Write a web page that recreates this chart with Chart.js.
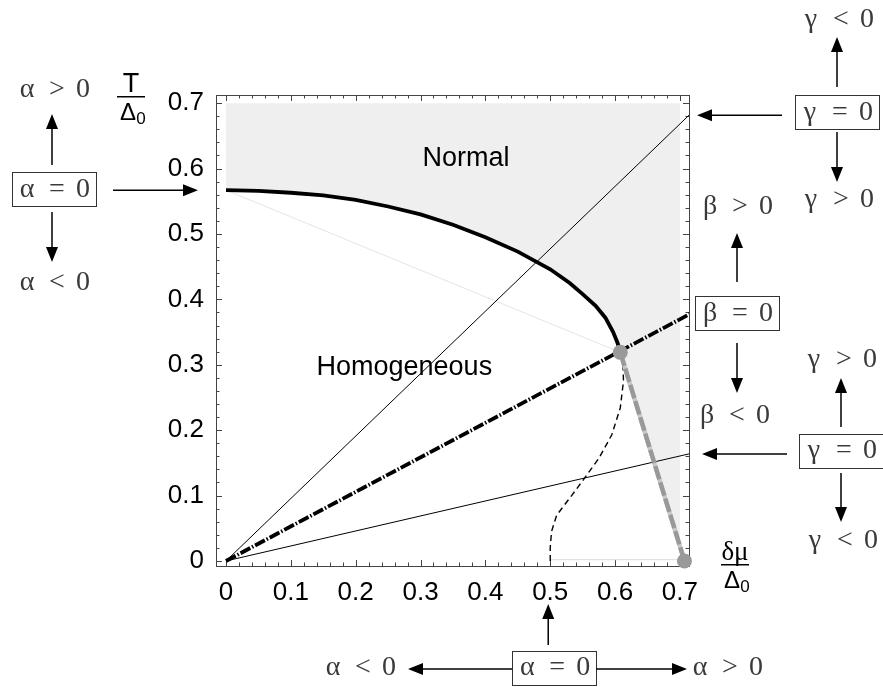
<!DOCTYPE html>
<html lang="en">
<head>
<meta charset="UTF-8">
<title>Phase diagram</title>
<script src="https://cdn.jsdelivr.net/npm/chart.js"></script>
<style>
  body { margin: 0; background: #fff; }
  #wrap { width: 883px; height: 687px; position: relative; }
</style>
</head>
<body>
<div id="wrap"><canvas id="phase"></canvas></div>
<script>
// axis ticks (both axes in units of Delta_0)
const xTicks = [0, 0.1, 0.2, 0.3, 0.4, 0.5, 0.6, 0.7];
const xTickLabels = ['0', '0.1', '0.2', '0.3', '0.4', '0.5', '0.6', '0.7'];
const yTicks = [0, 0.1, 0.2, 0.3, 0.4, 0.5, 0.6, 0.7];
const yTickLabels = ['0', '0.1', '0.2', '0.3', '0.4', '0.5', '0.6', '0.7'];

// second order line, normal -> homogeneous
const criticalLine = [
  [0, 0.567], [0.05, 0.566], [0.1, 0.563], [0.15, 0.559], [0.2, 0.552],
  [0.25, 0.542], [0.3, 0.530], [0.35, 0.514], [0.4, 0.495], [0.45, 0.473],
  [0.5, 0.446], [0.53, 0.425], [0.55, 0.408], [0.57, 0.390], [0.585, 0.372],
  [0.597, 0.350], [0.604, 0.333], [0.608, 0.319]
];
// first order line from the tricritical point down to the T = 0 limit
const firstOrderLine = [[0.608, 0.319], [0.707, 0]];
// spinodal of the homogeneous phase
const spinodalLine = [
  [0.5, 0], [0.5, 0.02], [0.502, 0.045], [0.51, 0.07], [0.533, 0.10],
  [0.551, 0.124], [0.575, 0.157], [0.595, 0.193], [0.608, 0.234],
  [0.613, 0.275], [0.612, 0.305], [0.608, 0.319]
];
const specialPoints = [[0.608, 0.319], [0.707, 0]];
// straight lines through the origin (gamma = 0, beta = 0)
const gammaUpperLine = [[0, 0], [0.75, 0.716]];
const betaLine = [[0, 0], [0.75, 0.396]];
const gammaLowerLine = [[0, 0], [0.75, 0.172]];
// faint guides
const guideLine = [[0, 0.567], [0.608, 0.319]];
const baseLine = [[0.5, 0.002], [0.707, 0.002]];
// lower edge of the normal region inside 0 <= x <= 0.7
const normalEdge = criticalLine.concat([[0.7, 0.0226]]);

const pts = a => a.map(p => ({ x: p[0], y: p[1] }));

function line(data, color, width, dash, extra) {
  return Object.assign({
    data: pts(data), showLine: true, borderColor: color, borderWidth: width,
    borderDash: dash || [], pointRadius: 0, fill: false, tension: 0, clip: 0
  }, extra || {});
}

const datasets = [
  { data: pts(specialPoints), showLine: false, pointRadius: 7.5, pointBackgroundColor: '#999',
    pointBorderWidth: 0, clip: false, order: 0 },
  line(firstOrderLine, '#999', 4.5, [14, 3], { order: 1 }),
  line(firstOrderLine, '#c8c8c8', 4.5, [], { order: 2 }),
  line(criticalLine, '#000', 3.8, [], { order: 3 }),
  line(betaLine, '#000', 3.8, [11, 2, 1.5, 2], { order: 4 }),
  line(spinodalLine, '#000', 1.4, [6, 4], { order: 5 }),
  line(gammaUpperLine, '#000', 1, [], { order: 6 }),
  line(gammaLowerLine, '#000', 1, [], { order: 7 }),
  line(guideLine, '#e4e4e4', 1, [], { order: 8 }),
  line(baseLine, '#e2e2e2', 1.2, [], { order: 9 }),
  line(normalEdge, 'rgba(0,0,0,0)', 0, [], { order: 10, fill: { value: 0.7 }, backgroundColor: '#efefef' })
];

// frame with inward ticks on all four sides
const framePlugin = {
  id: 'frame',
  beforeDatasetsDraw(chart) {
    const { ctx, chartArea: a, scales: { x, y } } = chart;
    ctx.save();
    ctx.strokeStyle = '#444';
    ctx.lineWidth = 1;
    ctx.strokeRect(a.left + 0.5, a.top + 0.5, a.right - a.left, a.bottom - a.top);
    ctx.beginPath();
    for (let i = 0; i <= 35; i++) {
      const v = i * 0.02;
      const len = i % 5 === 0 ? 6 : 3.5;
      const px = Math.round(x.getPixelForValue(v)) + 0.5;
      ctx.moveTo(px, a.bottom); ctx.lineTo(px, a.bottom - len);
      ctx.moveTo(px, a.top); ctx.lineTo(px, a.top + len);
      const py = Math.round(y.getPixelForValue(v)) + 0.5;
      ctx.moveTo(a.left, py); ctx.lineTo(a.left + len, py);
      ctx.moveTo(a.right, py); ctx.lineTo(a.right - len, py);
    }
    ctx.stroke();
    ctx.restore();
  }
};

function arrow(ctx, x1, y1, x2, y2) {
  const ang = Math.atan2(y2 - y1, x2 - x1);
  const hl = 15, hw = 6;
  const bx = x2 - hl * Math.cos(ang), by = y2 - hl * Math.sin(ang);
  ctx.beginPath();
  ctx.moveTo(x1, y1); ctx.lineTo(bx, by);
  ctx.stroke();
  ctx.beginPath();
  ctx.moveTo(x2, y2);
  ctx.lineTo(bx + hw * Math.sin(ang), by - hw * Math.cos(ang));
  ctx.lineTo(bx - hw * Math.sin(ang), by + hw * Math.cos(ang));
  ctx.closePath();
  ctx.fill();
}

// "sym op 0" with the spacing of a typeset relation
function relation(ctx, cx, cy, sym, op, boxed) {
  ctx.fillStyle = '#3a3a3a';
  ctx.textAlign = 'center';
  ctx.textBaseline = 'middle';
  ctx.font = '28px "Liberation Serif"';
  ctx.fillText(sym, cx - 27, cy);
  ctx.fillText(op, cx + 3, cy);
  ctx.fillText('0', cx + 29, cy);
  if (boxed) {
    ctx.strokeStyle = '#333';
    ctx.lineWidth = 1;
    ctx.strokeRect(Math.round(cx - 42) + 0.5, Math.round(cy - 17) + 0.5, 84, 34);
  }
}

function fraction(ctx, cx, top, bar, topFont) {
  ctx.fillStyle = '#000';
  ctx.textAlign = 'center';
  ctx.textBaseline = 'alphabetic';
  ctx.font = topFont;
  ctx.fillText(top, cx, bar - 4);
  ctx.fillRect(cx - 14, bar, 28, 1.5);
  ctx.font = '24px "Liberation Sans"';
  ctx.fillText('\u0394', cx - 3, bar + 24);
  ctx.font = '17px "Liberation Sans"';
  ctx.fillText('0', cx + 10, bar + 28);
}

const notesPlugin = {
  id: 'notes',
  afterDraw(chart) {
    const { ctx, chartArea: a, scales: { x, y } } = chart;
    ctx.save();
    ctx.fillStyle = '#000';
    ctx.textAlign = 'center';
    ctx.textBaseline = 'middle';
    ctx.font = '27px "Liberation Sans"';
    ctx.fillText('Normal', x.getPixelForValue(0.37), y.getPixelForValue(0.615));
    ctx.fillText('Homogeneous', x.getPixelForValue(0.275), y.getPixelForValue(0.295));

    fraction(ctx, 131, 'T', 96, '27px "Liberation Sans"');
    fraction(ctx, 735, '\u03b4\u03bc', 564, '27px "Liberation Serif"');

    // alpha = 0 on the left edge
    const yA = y.getPixelForValue(criticalLine[0][1]);
    relation(ctx, 54, 90, '\u03b1', '>', false);
    relation(ctx, 54, yA - 1, '\u03b1', '=', true);
    relation(ctx, 54, 283, '\u03b1', '<', false);
    ctx.strokeStyle = '#000'; ctx.fillStyle = '#000'; ctx.lineWidth = 1.5;
    arrow(ctx, 52, 165, 52, 114);
    arrow(ctx, 52, 212, 52, 262);
    arrow(ctx, 113, yA, a.left - 18, yA);

    // upper gamma = 0
    const yG1 = y.getPixelForValue(gammaUpperLine[1][1] * x.max / gammaUpperLine[1][0]);
    relation(ctx, 838, 20, '\u03b3', '<', false);
    relation(ctx, 837, yG1 - 3, '\u03b3', '=', true);
    relation(ctx, 838, 200, '\u03b3', '>', false);
    ctx.strokeStyle = '#000'; ctx.fillStyle = '#000'; ctx.lineWidth = 1.5;
    arrow(ctx, 837, 87, 837, 37);
    arrow(ctx, 837, 132, 837, 182);
    arrow(ctx, 782, yG1, a.right + 8, yG1);

    // beta = 0
    const yB = y.getPixelForValue(betaLine[1][1] * x.max / betaLine[1][0]);
    relation(ctx, 737, 207, '\u03b2', '>', false);
    relation(ctx, 737, yB - 1, '\u03b2', '=', true);
    relation(ctx, 734, 416, '\u03b2', '<', false);
    ctx.strokeStyle = '#000'; ctx.fillStyle = '#000'; ctx.lineWidth = 1.5;
    arrow(ctx, 737, 282, 737, 233);
    arrow(ctx, 737, 343, 737, 393);

    // lower gamma = 0
    const yG2 = y.getPixelForValue(gammaLowerLine[1][1] * x.max / gammaLowerLine[1][0]);
    relation(ctx, 841, 360, '\u03b3', '>', false);
    relation(ctx, 841, yG2 - 3, '\u03b3', '=', true);
    relation(ctx, 842, 541, '\u03b3', '<', false);
    ctx.strokeStyle = '#000'; ctx.fillStyle = '#000'; ctx.lineWidth = 1.5;
    arrow(ctx, 841, 427, 841, 378);
    arrow(ctx, 841, 473, 841, 522);
    arrow(ctx, 787, yG2, a.right + 13, yG2);

    // alpha = 0 on the bottom edge
    const xA = x.getPixelForValue(spinodalLine[0][0]);
    relation(ctx, xA + 4, 668, '\u03b1', '=', true);
    relation(ctx, 360, 668, '\u03b1', '<', false);
    relation(ctx, 727, 668, '\u03b1', '>', false);
    ctx.strokeStyle = '#000'; ctx.fillStyle = '#000'; ctx.lineWidth = 1.5;
    arrow(ctx, xA - 2, 645, xA - 2, 604);
    arrow(ctx, xA - 38, 669, 408, 669);
    arrow(ctx, xA + 46, 669, 687, 669);
    ctx.restore();
  }
};

new Chart(document.getElementById('phase'), {
  type: 'scatter',
  data: { datasets },
  options: {
    responsive: true,
    maintainAspectRatio: false,
    animation: false,
    layout: { padding: { left: 0, right: 194, top: 95, bottom: 0 } },
    plugins: { legend: { display: false }, tooltip: { enabled: false } },
    scales: {
      x: {
        type: 'linear', min: -0.0154, max: 0.714,
        afterBuildTicks: s => { s.ticks = xTicks.map(v => ({ value: v })); },
        afterFit: s => { s.height = 121; },
        grid: { display: false, drawTicks: false },
        border: { display: false },
        ticks: { padding: 11, color: '#000', maxRotation: 0,
                 font: { family: 'Liberation Sans', size: 26 },
                 callback: (v, i) => xTickLabels[i] }
      },
      y: {
        type: 'linear', min: -0.0077, max: 0.7125,
        afterBuildTicks: s => { s.ticks = yTicks.map(v => ({ value: v })); },
        afterFit: s => { s.width = 216; },
        grid: { display: false, drawTicks: false },
        border: { display: false },
        ticks: { padding: 12, color: '#000',
                 font: { family: 'Liberation Sans', size: 26 },
                 callback: (v, i) => yTickLabels[i] }
      }
    }
  },
  plugins: [framePlugin, notesPlugin]
});
</script>
</body>
</html>
